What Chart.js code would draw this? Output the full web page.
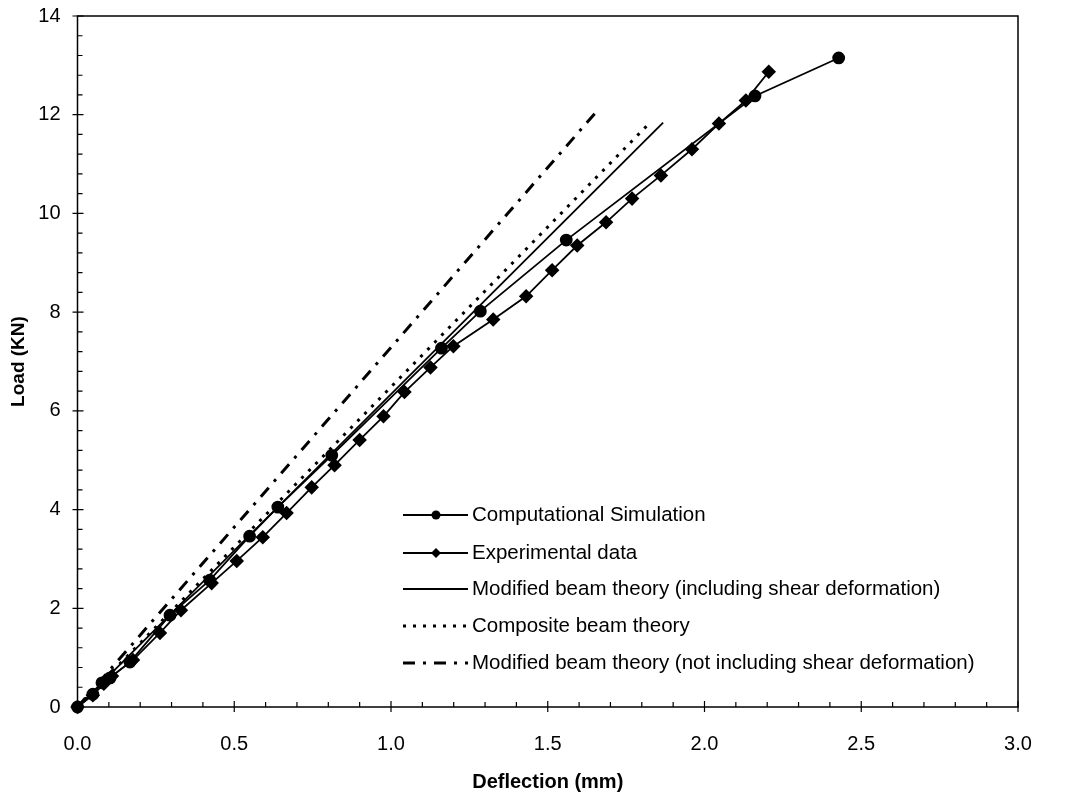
<!DOCTYPE html>
<html>
<head>
<meta charset="utf-8">
<script src="https://cdn.jsdelivr.net/npm/chart.js@4.4.1/dist/chart.umd.min.js"></script>
<style>
  html, body { margin: 0; padding: 0; background: #fff; }
  #wrap { width: 1067px; height: 798px; position: relative; }
</style>
</head>
<body>
<div id="wrap"><canvas id="loadChart"></canvas></div>
<script>
// Computational simulation (circles)
const simDeflection = [0, 0.049, 0.078, 0.104, 0.167, 0.295, 0.422, 0.549, 0.639, 0.811, 1.161, 1.285, 1.559, 2.161, 2.428];
const simLoad       = [0, 0.26, 0.49, 0.59, 0.91, 1.86, 2.57, 3.46, 4.05, 5.10, 7.27, 8.02, 9.46, 12.38, 13.15];

// Experimental data (diamonds)
const expDeflection = [0, 0.049, 0.084, 0.110, 0.177, 0.263, 0.330, 0.428, 0.508, 0.591, 0.667, 0.747, 0.820, 0.900,
                       0.976, 1.043, 1.126, 1.199, 1.326, 1.431, 1.514, 1.594, 1.686, 1.769, 1.861, 1.960, 2.046, 2.132, 2.205];
const expLoad       = [0, 0.24, 0.47, 0.63, 0.95, 1.50, 1.96, 2.51, 2.96, 3.44, 3.93, 4.45, 4.90, 5.41,
                       5.89, 6.38, 6.88, 7.31, 7.85, 8.32, 8.85, 9.35, 9.82, 10.30, 10.77, 11.30, 11.82, 12.29, 12.87];

// Theory lines (start / end)
const shearDeflection = [0, 1.868];
const shearLoad       = [0, 11.84];
const compDeflection  = [0, 1.820];
const compLoad        = [0, 11.80];
const noShearDeflection = [0, 1.651];
const noShearLoad       = [0, 12.03];

const xTicks = [0, 0.5, 1.0, 1.5, 2.0, 2.5, 3.0];
const yTicks = [0, 2, 4, 6, 8, 10, 12, 14];

const legendLabels = [
    'Computational Simulation',
    'Experimental data',
    'Modified beam theory (including shear deformation)',
    'Composite beam theory',
    'Modified beam theory (not including shear deformation)'
];

function toPoints(xs, ys) {
    return xs.map((x, i) => ({ x: x, y: ys[i] }));
}

const FONT = "'Liberation Sans', Arial, Helvetica, sans-serif";

// frame + inside tick marks
const frameTicks = {
    id: 'frameTicks',
    afterDraw(chart) {
        const { ctx, chartArea: a, scales: { x, y } } = chart;
        ctx.save();
        ctx.strokeStyle = '#000';
        ctx.lineWidth = 1.5;
        ctx.strokeRect(a.left, a.top, a.right - a.left, a.bottom - a.top);
        ctx.lineWidth = 1.2;
        ctx.beginPath();
        for (let i = 0; i <= 30; i++) {
            const px = x.getPixelForValue(i / 10);
            const major = i % 5 === 0;
            ctx.moveTo(px, a.bottom + (major ? 5 : 0));
            ctx.lineTo(px, a.bottom - (major ? 6 : 5));
        }
        for (let i = 0; i <= 35; i++) {
            const py = y.getPixelForValue(i * 0.4);
            const major = i % 5 === 0;
            ctx.moveTo(a.left - (major ? 5 : 0), py);
            ctx.lineTo(a.left + (major ? 6 : 5), py);
        }
        ctx.stroke();
        ctx.restore();
    }
};

// legend drawn inside plot area
const innerLegend = {
    id: 'innerLegend',
    afterDraw(chart) {
        const ctx = chart.ctx;
        const rows = [515, 553, 589, 626, 663];
        const x0 = 403, x1 = 468, mx = 436;
        ctx.save();
        ctx.strokeStyle = '#000';
        ctx.fillStyle = '#000';
        rows.forEach((ry, i) => {
            const ds = chart.data.datasets[i];
            ctx.lineWidth = ds.borderWidth;
            ctx.setLineDash(ds.borderDash || []);
            ctx.beginPath();
            ctx.moveTo(x0, ry);
            ctx.lineTo(x1, ry);
            ctx.stroke();
            ctx.setLineDash([]);
            if (i === 0) {
                ctx.beginPath();
                ctx.arc(mx, ry, 4.5, 0, Math.PI * 2);
                ctx.fill();
            } else if (i === 1) {
                ctx.beginPath();
                ctx.moveTo(mx, ry - 5);
                ctx.lineTo(mx + 5, ry);
                ctx.lineTo(mx, ry + 5);
                ctx.lineTo(mx - 5, ry);
                ctx.closePath();
                ctx.fill();
            }
            ctx.font = '20.5px ' + FONT;
            ctx.textBaseline = 'middle';
            ctx.fillText(legendLabels[i], 472, ry);
        });
        ctx.restore();
    }
};

const ctx = document.getElementById('loadChart');
new Chart(ctx, {
    type: 'scatter',
    data: {
        datasets: [{
            label: legendLabels[0],
            data: toPoints(simDeflection, simLoad),
            showLine: true,
            borderColor: '#000',
            backgroundColor: '#000',
            borderWidth: 1.8,
            pointStyle: 'circle',
            pointRadius: 5.5,
            clip: false
        }, {
            label: legendLabels[1],
            data: toPoints(expDeflection, expLoad),
            showLine: true,
            borderColor: '#000',
            backgroundColor: '#000',
            borderWidth: 1.8,
            pointStyle: 'rectRot',
            pointRadius: 6,
            clip: false
        }, {
            label: legendLabels[2],
            data: toPoints(shearDeflection, shearLoad),
            showLine: true,
            borderColor: '#000',
            borderWidth: 1.8,
            pointRadius: 0
        }, {
            label: legendLabels[3],
            data: toPoints(compDeflection, compLoad),
            showLine: true,
            borderColor: '#000',
            borderWidth: 3,
            borderDash: [3, 7],
            pointRadius: 0
        }, {
            label: legendLabels[4],
            data: toPoints(noShearDeflection, noShearLoad),
            showLine: true,
            borderColor: '#000',
            borderWidth: 3,
            borderDash: [12, 8, 3, 8],
            pointRadius: 0
        }]
    },
    options: {
        responsive: true,
        maintainAspectRatio: false,
        animation: false,
        layout: {
            padding: { top: 16, right: 49, left: 0, bottom: 0 }
        },
        plugins: {
            legend: { display: false },
            tooltip: { enabled: false }
        },
        scales: {
            x: {
                type: 'linear',
                min: 0,
                max: 3,
                afterFit(s) { s.height = 91; },
                afterBuildTicks(s) { s.ticks = xTicks.map(v => ({ value: v })); },
                grid: { display: false, drawTicks: false },
                border: { display: false },
                ticks: {
                    color: '#000',
                    padding: 25,
                    font: { family: FONT, size: 20 },
                    callback: v => Number(v).toFixed(1)
                },
                title: {
                    display: true,
                    text: 'Deflection (mm)',
                    color: '#000',
                    font: { family: FONT, size: 20, weight: 'bold' },
                    padding: { top: 0, bottom: 4 }
                }
            },
            y: {
                type: 'linear',
                min: 0,
                max: 14,
                afterFit(s) {
                    s.width = 77.5;
                    s.paddingTop = 0;
                    s.paddingBottom = 0;
                },
                afterBuildTicks(s) { s.ticks = yTicks.map(v => ({ value: v })); },
                grid: { display: false, drawTicks: false },
                border: { display: false },
                ticks: {
                    color: '#000',
                    padding: 17,
                    font: { family: FONT, size: 20 }
                },
                title: {
                    display: true,
                    text: 'Load (KN)',
                    color: '#000',
                    font: { family: FONT, size: 19, weight: 'bold' },
                    padding: { top: 7, bottom: 0 }
                }
            }
        }
    },
    plugins: [frameTicks, innerLegend]
});
</script>
</body>
</html>
